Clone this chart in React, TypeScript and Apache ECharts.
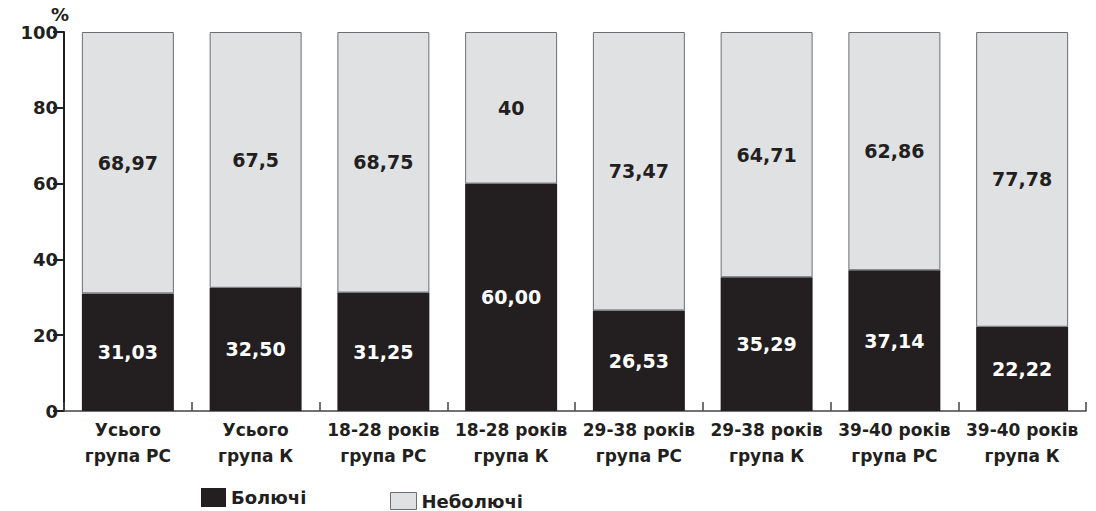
import React, { useEffect, useRef } from "react";
import * as echarts from "echarts";

// Groups (two-line category labels)
const categories = [
  "Усього\nгрупа РС",
  "Усього\nгрупа К",
  "18-28 років\nгрупа РС",
  "18-28 років\nгрупа К",
  "29-38 років\nгрупа РС",
  "29-38 років\nгрупа К",
  "39-40 років\nгрупа РС",
  "39-40 років\nгрупа К",
];

// Share of painful / painless cases, %
const painful = [31.03, 32.5, 31.25, 60.0, 26.53, 35.29, 37.14, 22.22];
const painless = [68.97, 67.5, 68.75, 40, 73.47, 64.71, 62.86, 77.78];

const yTicks = { min: 0, max: 100, interval: 20 };

const DARK = "#231f20";
const LIGHT = "#e0e1e3";
const FONT = "DejaVu Sans";

export default function App() {
  const ref = useRef<HTMLDivElement>(null);

  useEffect(() => {
    document.body.style.margin = "0";
    if (!ref.current) return;
    const chart = echarts.init(ref.current, undefined, { renderer: "svg" });

    const labelBase = {
      show: true,
      position: "inside" as const,
      fontFamily: FONT,
      fontWeight: "bold" as const,
      fontSize: 19,
    };

    chart.setOption({
      animation: false,
      backgroundColor: "#ffffff",
      textStyle: { fontFamily: FONT },
      grid: { left: 64, right: 10, top: 32, bottom: 100, containLabel: false },
      legend: [
        {
          data: [{ name: "Болючі", itemStyle: { color: DARK } }],
          left: 201,
          top: 488,
          itemWidth: 25,
          itemHeight: 19,
          icon: "rect",
          textStyle: { fontFamily: FONT, fontWeight: "bold", fontSize: 18, color: DARK },
          padding: 0,
        },
        {
          data: [
            {
              name: "Неболючі",
              itemStyle: { color: LIGHT, borderColor: "#6d6e71", borderWidth: 1 },
            },
          ],
          left: 390,
          top: 492,
          itemWidth: 26,
          itemHeight: 17,
          icon: "rect",
          textStyle: { fontFamily: FONT, fontWeight: "bold", fontSize: 18, color: DARK, padding: [6, 0, 0, 0] },
          padding: 0,
        },
      ],
      xAxis: {
        type: "category",
        data: categories,
        axisLine: { lineStyle: { color: "#444444", width: 1.5 } },
        axisTick: { show: true, inside: true, length: 9, lineStyle: { color: "#444444", width: 1.5 } },
        axisLabel: {
          interval: 0,
          fontFamily: FONT,
          fontWeight: "bold",
          fontSize: 17,
          lineHeight: 26,
          color: DARK,
          margin: 6,
        },
      },
      yAxis: {
        type: "value",
        min: yTicks.min,
        max: yTicks.max,
        interval: yTicks.interval,
        name: "%",
        nameLocation: "end",
        nameGap: 1,
        nameTextStyle: {
          fontFamily: FONT,
          fontWeight: "bold",
          fontSize: 18,
          color: DARK,
          align: "center",
          padding: [0, 8, 0, 0],
        },
        axisLine: { show: true, lineStyle: { color: DARK, width: 2 } },
        axisTick: { show: true, inside: false, length: 11, lineStyle: { color: DARK, width: 2 } },
        axisLabel: {
          fontFamily: FONT,
          fontWeight: "bold",
          fontSize: 18,
          color: DARK,
          margin: 6,
        },
        splitLine: { show: false },
      },
      series: [
        {
          name: "Болючі",
          type: "bar",
          stack: "total",
          barWidth: "72%",
          data: painful,
          itemStyle: { color: DARK },
          label: {
            ...labelBase,
            color: "#ffffff",
            formatter: (p: any) => Number(p.value).toFixed(2).replace(".", ","),
          },
        },
        {
          name: "Неболючі",
          type: "bar",
          stack: "total",
          barWidth: "72%",
          data: painless,
          itemStyle: { color: LIGHT, borderColor: "#6d6e71", borderWidth: 1 },
          label: {
            ...labelBase,
            color: DARK,
            formatter: (p: any) => String(p.value).replace(".", ","),
          },
        },
      ],
    });

    return () => chart.dispose();
  }, []);

  return <div ref={ref} style={{ width: 1096, height: 511 }} />;
}
